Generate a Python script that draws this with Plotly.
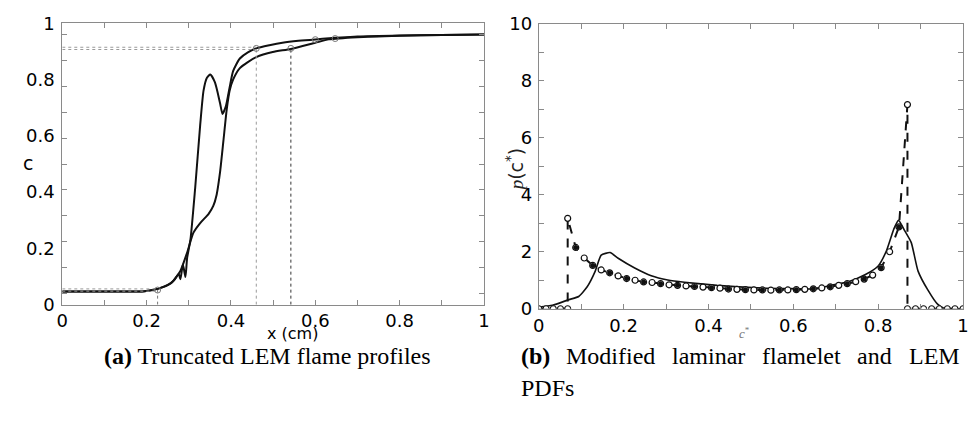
import plotly.graph_objects as go

# ---------------- Left panel data: truncated LEM flame profiles ----------------
xA = [0.0, 0.10, 0.195, 0.226, 0.250, 0.265, 0.276, 0.280, 0.286, 0.292, 0.296, 0.304,
      0.315, 0.327, 0.335, 0.343, 0.351, 0.362, 0.374, 0.380, 0.388, 0.397, 0.405,
      0.421, 0.440, 0.460, 0.491, 0.522, 0.560, 0.600, 0.700, 0.800, 0.900, 1.0]
cA = [0.047, 0.047, 0.048, 0.056, 0.070, 0.087, 0.109, 0.090, 0.143, 0.098, 0.166, 0.233,
      0.413, 0.639, 0.762, 0.807, 0.818, 0.790, 0.717, 0.678, 0.706, 0.774, 0.830,
      0.875, 0.897, 0.911, 0.922, 0.931, 0.938, 0.943, 0.953, 0.957, 0.959, 0.960]

xB = [0.0, 0.10, 0.195, 0.226, 0.257, 0.280, 0.296, 0.311, 0.327, 0.347, 0.358, 0.366,
      0.374, 0.382, 0.390, 0.397, 0.405, 0.421, 0.440, 0.460, 0.499, 0.542, 0.600,
      0.632, 0.700, 0.800, 0.900, 1.0]
cB = [0.047, 0.047, 0.048, 0.056, 0.075, 0.120, 0.185, 0.256, 0.290, 0.323, 0.351, 0.391,
      0.470, 0.582, 0.695, 0.762, 0.800, 0.841, 0.862, 0.880, 0.898, 0.909, 0.931,
      0.943, 0.951, 0.956, 0.959, 0.960]

# truncation points (start / end of truncated profiles)
trunc_x = [0.226, 0.460, 0.542]
trunc_c = [0.052, 0.911, 0.911]
extra_mark_x = [0.600, 0.647]
extra_mark_c = [0.942, 0.946]
low_levels = [0.048, 0.056]
high_levels = [0.907, 0.915]

# ---------------- Right panel data: PDFs ----------------
flam_x = [0.0, 0.017, 0.034, 0.051, 0.068, 0.068,
          0.087, 0.107, 0.127, 0.147, 0.167, 0.187, 0.207, 0.227, 0.247, 0.267,
          0.287, 0.307, 0.327, 0.347, 0.367, 0.387, 0.407, 0.427, 0.447, 0.467,
          0.487, 0.507, 0.527, 0.547, 0.567, 0.587, 0.607, 0.627, 0.647, 0.667,
          0.687, 0.707, 0.727, 0.747, 0.767, 0.787, 0.807, 0.827, 0.849, 0.869,
          0.869, 0.888, 0.907, 0.926, 0.944, 0.963, 0.981, 1.0]
flam_p = [0.0, 0.0, 0.0, 0.0, 0.0, 3.17,
          2.15, 1.78, 1.52, 1.36, 1.26, 1.15, 1.06, 1.00, 0.94, 0.92,
          0.88, 0.84, 0.82, 0.80, 0.78, 0.76, 0.74, 0.72, 0.69, 0.68,
          0.67, 0.66, 0.66, 0.65, 0.66, 0.66, 0.67, 0.68, 0.70, 0.73,
          0.77, 0.82, 0.88, 0.95, 1.04, 1.18, 1.44, 2.00, 2.87, 7.16,
          0.0, 0.0, 0.0, 0.0, 0.0, 0.0, 0.0, 0.0]

lem_x = [0.0, 0.032, 0.071, 0.094, 0.114, 0.133, 0.147, 0.168, 0.187, 0.226, 0.265,
         0.304, 0.343, 0.420, 0.504, 0.581, 0.653, 0.698, 0.730, 0.770, 0.800,
         0.820, 0.837, 0.848, 0.862, 0.878, 0.894, 0.917, 0.940, 0.956, 1.0]
lem_p = [0.06, 0.12, 0.32, 0.43, 0.77, 1.32, 1.88, 1.97, 1.77, 1.43, 1.16,
         1.01, 0.93, 0.82, 0.74, 0.71, 0.70, 0.85, 0.95, 1.20, 1.50,
         2.05, 2.80, 3.10, 2.75, 2.32, 1.32, 0.66, 0.16, 0.01, 0.0]

# caption texts
caption_a = "<b>(a)</b> Truncated LEM flame profiles"
caption_b_words = ["<b>(b)</b>", "Modified", "laminar", "flamelet", "and", "LEM"]
caption_b_line2 = "PDFs"

BLACK = "#111111"
GREY = "#8a8a8a"

fig = go.Figure()

# left panel curves
fig.add_trace(go.Scatter(x=xB, y=cB, mode="lines", line=dict(color=BLACK, width=2, shape="spline", smoothing=0.6),
                         xaxis="x", yaxis="y", showlegend=False))
fig.add_trace(go.Scatter(x=xA, y=cA, mode="lines", line=dict(color=BLACK, width=2, shape="spline", smoothing=0.6),
                         xaxis="x", yaxis="y", showlegend=False))

# dotted reference lines built from truncation points
for lv in low_levels:
    fig.add_trace(go.Scatter(x=[0, trunc_x[0]], y=[lv, lv], mode="lines",
                             line=dict(color="#9a9a9a", width=1, dash="dot"),
                             xaxis="x", yaxis="y", showlegend=False))
for lv in high_levels:
    fig.add_trace(go.Scatter(x=[0, trunc_x[1]], y=[lv, lv], mode="lines",
                             line=dict(color="#9a9a9a", width=1, dash="dot"),
                             xaxis="x", yaxis="y", showlegend=False))
vcols = ["#777777", "#9a9a9a", "#333333"]
for tx, tc, vc in zip(trunc_x, trunc_c, vcols):
    fig.add_trace(go.Scatter(x=[tx, tx], y=[0, tc], mode="lines",
                             line=dict(color=vc, width=1, dash="dot"),
                             xaxis="x", yaxis="y", showlegend=False))
fig.add_trace(go.Scatter(x=trunc_x + extra_mark_x, y=trunc_c + extra_mark_c, mode="markers",
                         marker=dict(symbol="circle-open", size=6, color="#777777", line=dict(width=1)),
                         xaxis="x", yaxis="y", showlegend=False))

# right panel curves
fig.add_trace(go.Scatter(x=lem_x, y=lem_p, mode="lines", line=dict(color=BLACK, width=1.6, shape="spline", smoothing=0.5),
                         xaxis="x2", yaxis="y2", showlegend=False))
fig.add_trace(go.Scatter(x=flam_x, y=flam_p, mode="lines+markers",
                         line=dict(color=BLACK, width=2, dash="dash"),
                         marker=dict(symbol="circle", size=6, color="white", line=dict(color=BLACK, width=1.2)),
                         xaxis="x2", yaxis="y2", showlegend=False))
# filled markers interleaved (second PDF sampled on the same grid)
fx = [flam_x[i] for i in range(6, 45, 2)]
fp = [flam_p[i] for i in range(6, 45, 2)]
fig.add_trace(go.Scatter(x=fx, y=fp, mode="markers",
                         marker=dict(symbol="circle", size=5, color=BLACK),
                         xaxis="x2", yaxis="y2", showlegend=False))

W, H = 971, 423
def fx_(p):
    return p / W
def fy_(p):
    return 1 - p / H

tickfont = dict(family="DejaVu Sans", size=18, color="black")
axcommon = dict(showline=True, linecolor=GREY, linewidth=1, mirror="ticks", showgrid=False,
                zeroline=False, ticks="inside", ticklen=5, tickcolor=GREY, tickwidth=1,
                tickfont=tickfont)

xt = [round(0.1 * i, 1) for i in range(11)]
xtt = [("0" if v == 0 else ("1" if v == 1 else f"{v:.1f}")) if i % 2 == 0 else "" for i, v in enumerate(xt)]

yl_minor = [round(0.04 + 0.092 * i, 3) for i in range(11)]

fig.update_layout(
    width=W, height=H, margin=dict(l=0, r=0, t=0, b=0),
    paper_bgcolor="white", plot_bgcolor="white",
    xaxis=dict(domain=[fx_(57), fx_(484)], range=[0, 1], tickvals=xt, ticktext=xtt,
               anchor="y", ticklabelstandoff=0, **axcommon),
    yaxis=dict(domain=[fy_(309), fy_(13)], range=[0, 1], anchor="x",
               **{**axcommon, "ticks": ""},
               tickvals=[0, 0.2, 0.4, 0.6, 0.8, 1], ticktext=["0", "0.2", "0.4", "0.6", "0.8", "1"],
               minor=dict(tickvals=yl_minor, ticks="inside", ticklen=5, tickcolor=GREY, tickwidth=1),
               ticklabelstandoff=3),
    xaxis2=dict(domain=[fx_(539.5), fx_(969)], range=[0, 1], tickvals=xt, ticktext=xtt,
                anchor="y2", ticklabelstandoff=1, **axcommon),
    yaxis2=dict(domain=[fy_(313.3), fy_(13.3)], range=[0, 10], anchor="x2",
                tickvals=list(range(11)), ticktext=[str(v) if v % 2 == 0 else "" for v in range(11)],
                ticklabelstandoff=2, **axcommon),
)

ann = []
ann.append(dict(text="x (cm)", x=263 / W, y=fy_(339), xref="paper", yref="paper", showarrow=False,
                yanchor="middle", borderpad=0,
                font=dict(family="DejaVu Sans", size=16, color="black")))
ann.append(dict(text="c", x=15 / W, y=fy_(160), xref="paper", yref="paper", showarrow=False,
                yanchor="middle", font=dict(family="DejaVu Sans", size=19, color="black")))
ann.append(dict(text="<span style='font-family:Liberation Serif'><i>p</i></span>(c<sup>*</sup>)",
                x=515 / W, y=fy_(167), xref="paper", yref="paper", showarrow=False, textangle=-90,
                yanchor="middle", font=dict(family="DejaVu Sans", size=19, color="#222222")))
ann.append(dict(text="<i>c</i><sup>*</sup>", x=755 / W, y=fy_(339), xref="paper", yref="paper",
                yanchor="middle", showarrow=False,
                font=dict(family="Liberation Serif", size=13, color="#777777")))

capfont = dict(family="Liberation Serif", size=24, color="black")
ann.append(dict(text=caption_a, x=98 / W, y=fy_(363), xref="paper", borderpad=0,
                yref="paper", xanchor="left", yanchor="middle", showarrow=False, font=capfont))
words_bx = [520, 566, 673, 764, 861, 913]
for wtxt, wx in zip(caption_b_words, words_bx):
    ann.append(dict(text=wtxt, x=wx / W, y=fy_(363), xref="paper", yref="paper", xanchor="left",
                    yanchor="middle", showarrow=False, borderpad=0, font=capfont))
ann.append(dict(text=caption_b_line2, x=520 / W, y=fy_(397), xref="paper", yref="paper", xanchor="left",
                yanchor="middle", showarrow=False, borderpad=0, font=capfont))
fig.update_layout(annotations=ann)

fig.write_html("out.html")
